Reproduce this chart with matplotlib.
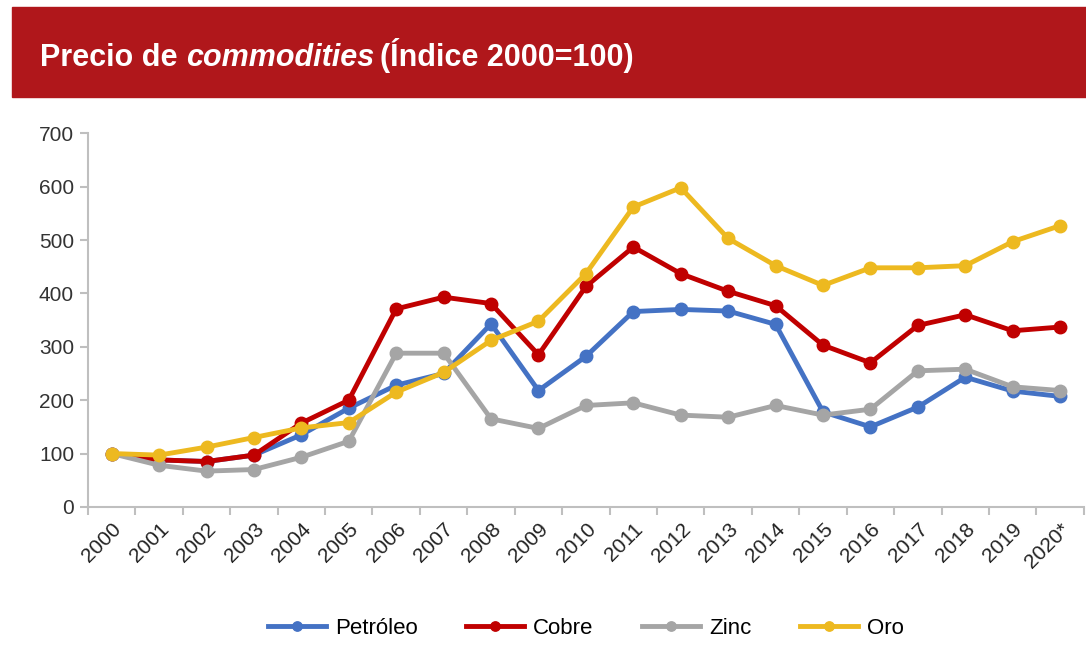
"""
Precio de commodities (Indice 2000=100)
"""

import matplotlib.pyplot as plt
from matplotlib.patches import Rectangle
import numpy as np

years = ["2000", "2001", "2002", "2003", "2004", "2005", "2006", "2007", "2008", "2009",
         "2010", "2011", "2012", "2013", "2014", "2015", "2016", "2017", "2018", "2019", "2020*"]

petroleo = [100, 88, 85, 97, 135, 185, 228, 250, 343, 218,
            282, 366, 370, 367, 342, 178, 150, 187, 243, 217, 207]
cobre = [100, 88, 85, 97, 157, 200, 371, 393, 381, 285,
         413, 487, 437, 404, 377, 303, 270, 340, 360, 330, 337]
zinc = [100, 78, 67, 70, 93, 123, 288, 288, 165, 147,
        190, 195, 172, 168, 190, 172, 183, 255, 258, 225, 218]
oro = [100, 97, 112, 130, 148, 158, 215, 252, 312, 348,
       437, 562, 598, 503, 452, 415, 448, 448, 452, 497, 527]

series = [("Petróleo", petroleo, "#4472C4"),
          ("Cobre", cobre, "#C00000"),
          ("Zinc", zinc, "#A5A5A5"),
          ("Oro", oro, "#EDB920")]

plt.rcParams["font.family"] = ["Liberation Sans", "DejaVu Sans"]

fig = plt.figure(figsize=(10.86, 6.6), dpi=100)
renderer = fig.canvas.get_renderer()

# Red title banner
fig.patches.append(Rectangle((12 / 1086, 1 - 97 / 660), 1 - 12 / 1086, 90 / 660,
                             transform=fig.transFigure, color="#B0171B", zorder=0))
title_y = 1 - 66 / 660
t1 = fig.text(40 / 1086, title_y, "Precio de ", color="white", fontsize=22,
              fontweight="bold", va="baseline", ha="left")
bb = t1.get_window_extent(renderer=renderer)
t2 = fig.text(bb.x1 / fig.bbox.width, title_y, "commodities", color="white", fontsize=22,
              fontweight="bold", style="italic", va="baseline", ha="left")
bb2 = t2.get_window_extent(renderer=renderer)
fig.text(bb2.x1 / fig.bbox.width + 0.005, title_y, "(Índice 2000=100)", color="white",
         fontsize=22, fontweight="bold", va="baseline", ha="left")

ax = fig.add_axes([0.081, 0.232, 0.917, 0.566])
x = np.arange(len(years))
for name, vals, color in series:
    ax.plot(x, vals, color=color, lw=3.5, marker="o", ms=9, label=name)

ax.set_ylim(0, 700)
ax.set_yticks(range(0, 701, 100))
ax.set_xlim(-0.5, len(years) - 0.5)
ax.set_xticks(x)
ax.set_xticklabels(years, rotation=45, ha="right", rotation_mode="anchor")
ax.set_xticks(np.arange(-0.5, len(years)), minor=True)
ax.tick_params(axis="x", which="major", length=0, labelsize=15, colors="#222222", pad=9)
ax.tick_params(axis="x", which="minor", length=6, color="#BFBFBF", width=1.5)
ax.tick_params(axis="y", length=6, width=1.5, color="#BFBFBF", labelsize=15,
               labelcolor="#333333", pad=4)
for s in ["top", "right"]:
    ax.spines[s].set_visible(False)
for s in ["left", "bottom"]:
    ax.spines[s].set_color("#BFBFBF")
    ax.spines[s].set_linewidth(1.5)

ax.legend(loc="center", bbox_to_anchor=(0.5, ((660 - 628) / 660 - 0.232) / 0.566),
          ncol=4, frameon=False, fontsize=16, handlelength=2.6, columnspacing=2.2,
          handletextpad=0.4, markerscale=0.75)

fig.savefig("out.png", dpi=100)
